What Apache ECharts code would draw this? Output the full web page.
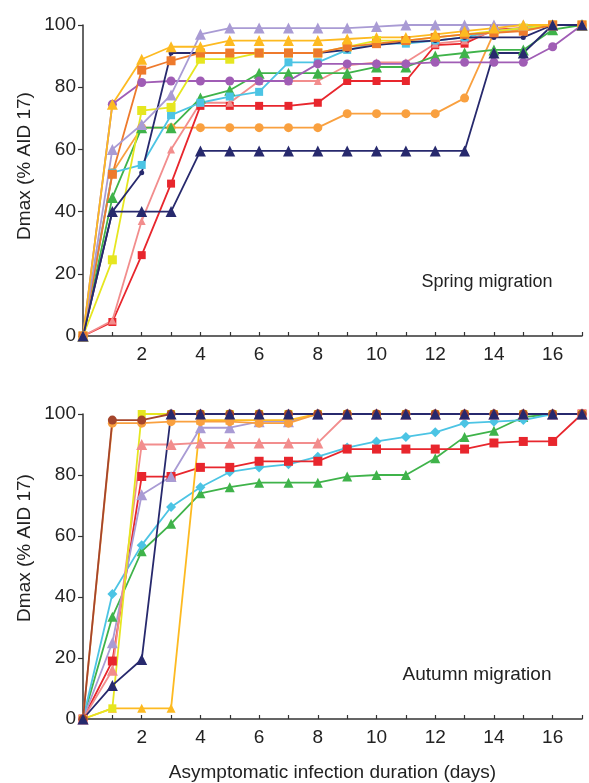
<!DOCTYPE html>
<html>
<head>
<meta charset="utf-8">
<script src="https://cdn.jsdelivr.net/npm/echarts@6/dist/echarts.min.js"></script>
<style>
    html, body { margin: 0; padding: 0; background: #fff; }
    #chart { width: 589px; height: 783px; }
</style>
</head>
<body>
<div id="chart"></div>
<script>
// days after infection, shared by both panels
var days = [0, 1, 2, 3, 4, 5, 6, 7, 8, 9, 10, 11, 12, 13, 14, 15, 16, 17];
var xLabelDays = [2, 4, 6, 8, 10, 12, 14, 16];
var yTicks = [0, 20, 40, 60, 80, 100];

// Spring migration
var springGold = [0, 74.5, 89, 93, 93, 95, 95, 95, 95, 95.5, 96, 96, 97, 98, 99, 100, 100, 100];
var springLavender = [0, 60, 68, 77.5, 97, 99, 99, 99, 99, 99, 99.5, 100, 100, 100, 100, 100, 100, 100];
var springNavyA = [0, 40, 40, 40, 59.5, 59.5, 59.5, 59.5, 59.5, 59.5, 59.5, 59.5, 59.5, 59.5, 91, 91, 100, 100];
var springNavyB = [0, 40, 52.5, 91, 91, 91, 91, 91, 91, 92, 93.5, 94.5, 95, 96, 96, 96, 100, 100];
var springOrangeSq = [0, 52, 85.5, 88.5, 91, 91, 91, 91, 91, 93, 94, 95, 96, 97, 97.5, 98, 100, 100];
var springYellow = [0, 24.5, 72.5, 73.5, 89, 89, 91, 91, 91, 93, 95, 95, 96, 97, 98, 99, 100, 100];
var springPurple = [0, 74.5, 81.5, 82, 82, 82, 82, 82, 87.5, 87.5, 87.5, 87.5, 88, 88, 88, 88, 93, 100];
var springCyan = [0, 52.5, 55, 71, 75, 77, 78.5, 88, 88, 92, 94, 94, 95, 96, 98, 99, 100, 100];
var springGreen = [0, 44.5, 67, 67, 76.5, 79, 84.5, 84.5, 84.5, 84.5, 86.5, 86.5, 90, 91, 92, 92, 98.5, 100];
var springPink = [0, 5, 37, 60, 75, 75, 82, 82, 82, 87, 88, 88, 94, 95, 98, 99, 100, 100];
var springRed = [0, 4.5, 26, 49, 74, 74, 74, 74, 75, 82, 82, 82, 93.5, 94, 98.5, 99, 100, 100];
var springOrangeCirc = [0, 52.5, 67, 67, 67, 67, 67, 67, 67, 71.5, 71.5, 71.5, 71.5, 76.5, 97.5, 98.5, 100, 100];

// Autumn migration
var autumnBrown = [0, 98, 98, 100, 100, 100, 100, 100, 100, 100, 100, 100, 100, 100, 100, 100, 100, 100];
var autumnOrange = [0, 97, 97, 97.5, 97.5, 97.5, 97, 97, 100, 100, 100, 100, 100, 100, 100, 100, 100, 100];
var autumnYellow = [0, 3.5, 100, 100, 100, 100, 100, 100, 100, 100, 100, 100, 100, 100, 100, 100, 100, 100];
var autumnGold = [0, 3.5, 3.5, 3.5, 98, 98, 98, 98, 100, 100, 100, 100, 100, 100, 100, 100, 100, 100];
var autumnPink = [0, 16, 90, 90, 90.5, 90.5, 90.5, 90.5, 90.5, 100, 100, 100, 100, 100, 100, 100, 100, 100];
var autumnLavender = [0, 25, 73.5, 79.5, 95.5, 95.5, 97.5, 97.5, 100, 100, 100, 100, 100, 100, 100, 100, 100, 100];
var autumnRed = [0, 19, 79.5, 79.5, 82.5, 82.5, 84.5, 84.5, 84.5, 88.5, 88.5, 88.5, 88.5, 88.5, 90.5, 91, 91, 100];
var autumnCyan = [0, 41, 57, 69.5, 76, 81, 82.5, 83.5, 86, 89, 91, 92.5, 94, 97, 97.5, 98, 100, 100];
var autumnGreen = [0, 33.5, 55, 64, 74, 76, 77.5, 77.5, 77.5, 79.5, 80, 80, 85.5, 92.5, 94.5, 99, 100, 100];
var autumnNavy = [0, 11, 19.5, 100, 100, 100, 100, 100, 100, 100, 100, 100, 100, 100, 100, 100, 100, 100];

var FONT = 'Liberation Sans';
var AXIS_COLOR = '#333';

function line(values, color, symbol, size, panel) {
    return {
        type: 'line',
        xAxisIndex: panel,
        yAxisIndex: panel,
        data: values.map(function (v, i) { return [days[i], v]; }),
        symbol: symbol,
        symbolSize: size,
        showSymbol: symbol !== 'none',
        lineStyle: { color: color, width: 1.8 },
        itemStyle: { color: color },
        animation: false,
        silent: true
    };
}

function xAxis(panel, withName) {
    return {
        type: 'value', gridIndex: panel, min: 0, max: 17, interval: 1,
        axisLine: { lineStyle: { color: AXIS_COLOR, width: 1.5 } },
        axisTick: { inside: true, length: 4, lineStyle: { color: AXIS_COLOR, width: 1.2 } },
        axisLabel: {
            margin: 9, fontFamily: FONT, fontSize: 19, color: '#222',
            formatter: function (v) { return xLabelDays.indexOf(v) >= 0 ? String(v) : ''; }
        },
        splitLine: { show: false },
        name: withName ? 'Asymptomatic infection duration (days)' : '',
        nameLocation: 'middle', nameGap: 44,
        nameTextStyle: { fontFamily: FONT, fontSize: 19, color: '#222' }
    };
}

function yAxis(panel) {
    return {
        type: 'value', gridIndex: panel, min: 0, max: 100, interval: 20,
        axisLine: { show: true, lineStyle: { color: AXIS_COLOR, width: 1.5 } },
        axisTick: { show: true, length: 5, lineStyle: { color: AXIS_COLOR, width: 1.2 } },
        axisLabel: {
            margin: 7, fontFamily: FONT, fontSize: 19, color: '#222',
            formatter: function (v) { return yTicks.indexOf(v) >= 0 ? String(v) : ''; }
        },
        splitLine: { show: false }
    };
}

var chart = echarts.init(document.getElementById('chart'));
chart.setOption({
    backgroundColor: '#fff',
    grid: [
        { left: 83, top: 25, width: 499, height: 311 },
        { left: 83, top: 414, width: 499, height: 308 }
    ],
    xAxis: [xAxis(0, false), xAxis(1, true)],
    yAxis: [yAxis(0), yAxis(1)],
    graphic: [
        { type: 'text', x: 25, y: 166, rotation: Math.PI / 2,
          style: { text: 'Dmax (% AID 17)', font: '19px "Liberation Sans"', fill: '#222', textAlign: 'center', textVerticalAlign: 'middle' } },
        { type: 'text', x: 25, y: 548, rotation: Math.PI / 2,
          style: { text: 'Dmax (% AID 17)', font: '19px "Liberation Sans"', fill: '#222', textAlign: 'center', textVerticalAlign: 'middle' } },
        { type: 'text', x: 487, y: 282,
          style: { text: 'Spring migration', font: '18px "Liberation Sans"', fill: '#222', textAlign: 'center', textVerticalAlign: 'middle' } },
        { type: 'text', x: 477, y: 675,
          style: { text: 'Autumn migration', font: '19px "Liberation Sans"', fill: '#222', textAlign: 'center', textVerticalAlign: 'middle' } }
    ],
    series: [
        line(springOrangeCirc, '#F9A03F', 'circle', 9, 0),
        line(springRed, '#E8262D', 'rect', 8, 0),
        line(springPink, '#F28D8D', 'triangle', 8, 0),
        line(springGreen, '#3FB34A', 'triangle', 11, 0),
        line(springCyan, '#4CC4E4', 'rect', 8, 0),
        line(springPurple, '#A05DB5', 'circle', 9, 0),
        line(springYellow, '#E6E620', 'rect', 9, 0),
        line(springNavyB, '#27296D', 'circle', 5, 0),
        line(springOrangeSq, '#EE7A2C', 'rect', 9, 0),
        line(springLavender, '#A99BD4', 'triangle', 11, 0),
        line(springGold, '#FDBA21', 'triangle', 11, 0),
        line(springNavyA, '#27296D', 'triangle', 11, 0),

        line(autumnGreen, '#3FB34A', 'triangle', 10, 1),
        line(autumnCyan, '#4CC4E4', 'diamond', 10, 1),
        line(autumnRed, '#E8262D', 'rect', 9, 1),
        line(autumnLavender, '#A99BD4', 'triangle', 11, 1),
        line(autumnPink, '#F28D8D', 'triangle', 11, 1),
        line(autumnGold, '#FDBA21', 'triangle', 9, 1),
        line(autumnYellow, '#E6E620', 'rect', 8, 1),
        line(autumnOrange, '#F9A03F', 'circle', 9, 1),
        line(autumnBrown, '#A4452C', 'circle', 9, 1),
        line(autumnNavy, '#27296D', 'triangle', 11, 1)
    ]
});
</script>
</body>
</html>
